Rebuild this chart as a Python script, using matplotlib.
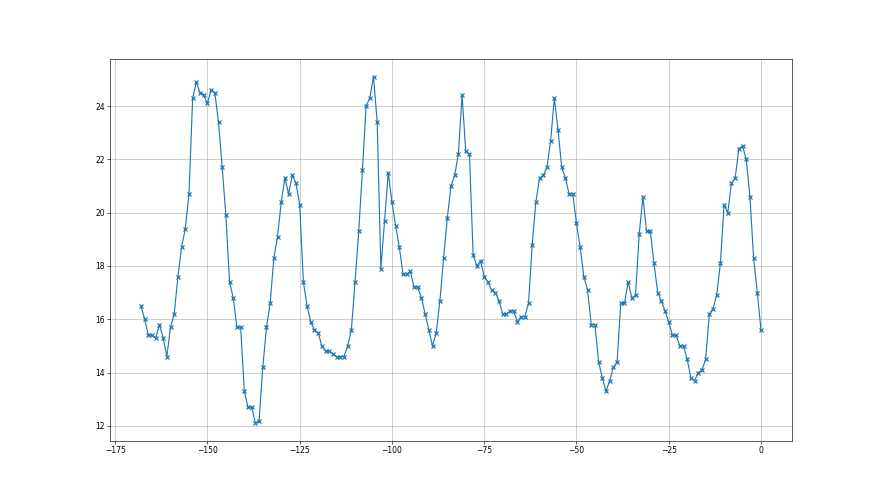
import numpy as np
import matplotlib
matplotlib.use("Agg")
import matplotlib.pyplot as plt

# hours before now
hours = np.arange(-168, 1)

# temperature readings, one per hour
temps = [
    16.5, 16.0, 15.4, 15.4, 15.3, 15.8, 15.3, 14.6, 15.7, 16.2,   # -168 .. -159
    17.6, 18.7, 19.4, 20.7, 24.3, 24.9, 24.5, 24.4, 24.1, 24.6,   # -158 .. -149
    24.5, 23.4, 21.7, 19.9, 17.4, 16.8, 15.7, 15.7, 13.3, 12.7,   # -148 .. -139
    12.7, 12.1, 12.2, 14.2, 15.7, 16.6, 18.3, 19.1, 20.4, 21.3,   # -138 .. -129
    20.7, 21.4, 21.1, 20.3, 17.4, 16.5, 15.9, 15.6, 15.5, 15.0,   # -128 .. -119
    14.8, 14.8, 14.7, 14.6, 14.6, 14.6, 15.0, 15.6, 17.4, 19.3,   # -118 .. -109
    21.6, 24.0, 24.3, 25.1, 23.4, 17.9, 19.7, 21.5, 20.4, 19.5,   # -108 .. -99
    18.7, 17.7, 17.7, 17.8, 17.2, 17.2, 16.8, 16.2, 15.6, 15.0,   # -98 .. -89
    15.5, 16.7, 18.3, 19.8, 21.0, 21.4, 22.2, 24.4, 22.3, 22.2,   # -88 .. -79
    18.4, 18.0, 18.2, 17.6, 17.4, 17.1, 17.0, 16.7, 16.2, 16.2,   # -78 .. -69
    16.3, 16.3, 15.9, 16.1, 16.1, 16.6, 18.8, 20.4, 21.3, 21.4,   # -68 .. -59
    21.7, 22.7, 24.3, 23.1, 21.7, 21.3, 20.7, 20.7, 19.6, 18.7,   # -58 .. -49
    17.6, 17.1, 15.8, 15.8, 14.4, 13.8, 13.3, 13.7, 14.2, 14.4,   # -48 .. -39
    16.6, 16.6, 17.4, 16.8, 16.9, 19.2, 20.6, 19.3, 19.3, 18.1,   # -38 .. -29
    17.0, 16.7, 16.3, 15.9, 15.4, 15.4, 15.0, 15.0, 14.5, 13.8,   # -28 .. -19
    13.7, 14.0, 14.1, 14.5, 16.2, 16.4, 16.9, 18.1, 20.3, 20.0,   # -18 .. -9
    21.1, 21.3, 22.4, 22.5, 22.0, 20.6, 18.3, 17.0, 15.6,         # -8 .. 0
]

plt.figure(figsize=(16, 9), dpi=55)
plt.plot(hours, temps, marker='x', markersize=6, markeredgewidth=1.6)
plt.grid(True)
plt.savefig("out.png", dpi=55)
